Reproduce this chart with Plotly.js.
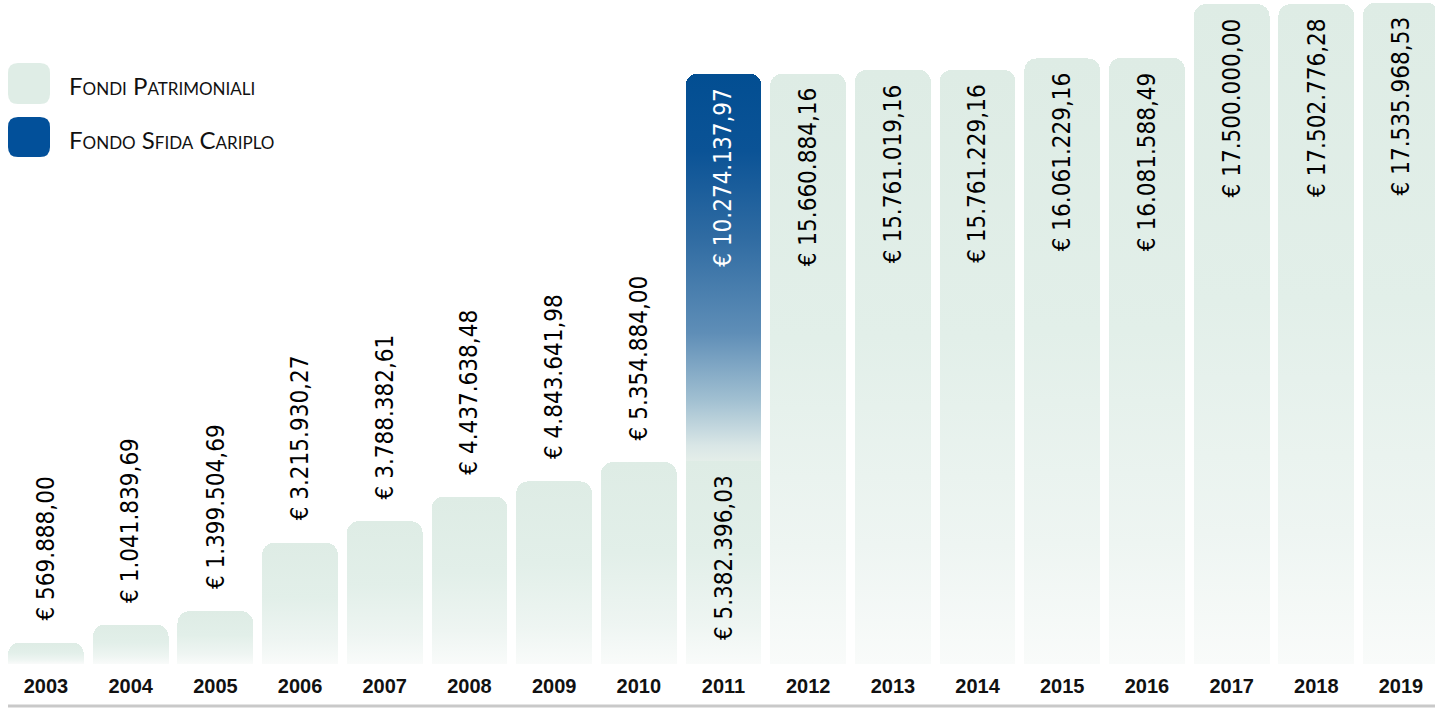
<!DOCTYPE html>
<html>
<head>
<meta charset="utf-8">
<script src="https://cdn.plot.ly/plotly-3.0.1.min.js"></script>
<style>
  html, body { margin: 0; padding: 0; background: #ffffff; }
  #chart { width: 1435px; height: 708px; }
</style>
</head>
<body>
<div id="chart"></div>
<script>
// ---- data ----
const years = ['2003','2004','2005','2006','2007','2008','2009','2010','2011',
               '2012','2013','2014','2015','2016','2017','2018','2019'];
const fondiPatrimoniali = [569888.00, 1041839.69, 1399504.69, 3215930.27, 3788382.61,
  4437638.48, 4843641.98, 5354884.00, 5382396.03, 15660884.16, 15761019.16,
  15761229.16, 16061229.16, 16081588.49, 17500000.00, 17502776.28, 17535968.53];
const fondoSfidaCariplo = [null, null, null, null, null, null, null, null, 10274137.97,
  null, null, null, null, null, null, null, null];
const seriesNames = ['Fondi Patrimoniali', 'Fondo Sfida Cariplo'];
// labels drawn above the bar for these years (others inside)
const outsideYears = ['2003','2004','2005','2006','2007','2008','2009','2010'];

// ---- helpers ----
function fmtEuro(v) {
  const parts = v.toFixed(2).split('.');
  const intp = parts[0].replace(/\B(?=(\d{3})+(?!\d))/g, '.');
  return '€ ' + intp + ',' + parts[1];
}

const W = 1435, H = 708, MB = 44;
const plotH = H - MB;
const pxPerMillion = 37.7;
const yMax = plotH / pxPerMillion * 1e6;

const GREEN = '#dfede6';
const BLUE = '#02509a';
const LABEL_FONT = '"DejaVu Sans Condensed", "Roboto Condensed", "Liberation Sans Narrow", "DejaVu Sans", sans-serif';

const traces = [
  {
    type: 'bar', name: seriesNames[0], x: years, y: fondiPatrimoniali,
    marker: { color: GREEN, cornerradius: 12, line: { width: 0 } },
    hoverinfo: 'x+y'
  },
  {
    type: 'bar', name: seriesNames[1], x: years, y: fondoSfidaCariplo,
    marker: { color: BLUE, cornerradius: 12, line: { width: 0 } },
    hoverinfo: 'x+y'
  }
];

// value labels (annotations in data coordinates; category axis -> index positions)
const annotations = [];
years.forEach((yr, i) => {
  const base = fondiPatrimoniali[i];
  const extra = fondoSfidaCariplo[i];
  const outside = outsideYears.includes(yr);
  annotations.push({
    x: i, y: base, xref: 'x', yref: 'y', text: fmtEuro(base), textangle: -90,
    showarrow: false, xanchor: 'center',
    yanchor: outside ? 'bottom' : 'top', yshift: outside ? 20 : -12,
    font: { family: LABEL_FONT, size: 24, color: '#000000' }
  });
  if (extra != null) {
    annotations.push({
      x: i, y: base + extra, xref: 'x', yref: 'y', text: fmtEuro(extra), textangle: -90,
      showarrow: false, xanchor: 'center', yanchor: 'top', yshift: -12,
      font: { family: LABEL_FONT, size: 24, color: '#ffffff' }
    });
  }
});

// legend (drawn as layout shapes + text)
function pxX(px) { return px / W; }
function pxY(py) { return (plotH - py) / plotH; }
function roundRectPath(x0, y0, x1, y1, r) {
  const X = pxX, Y = pxY;
  return 'M' + X(x0 + r) + ',' + Y(y0) +
    ' L' + X(x1 - r) + ',' + Y(y0) +
    ' Q' + X(x1) + ',' + Y(y0) + ' ' + X(x1) + ',' + Y(y0 + r) +
    ' L' + X(x1) + ',' + Y(y1 - r) +
    ' Q' + X(x1) + ',' + Y(y1) + ' ' + X(x1 - r) + ',' + Y(y1) +
    ' L' + X(x0 + r) + ',' + Y(y1) +
    ' Q' + X(x0) + ',' + Y(y1) + ' ' + X(x0) + ',' + Y(y1 - r) +
    ' L' + X(x0) + ',' + Y(y0 + r) +
    ' Q' + X(x0) + ',' + Y(y0) + ' ' + X(x0 + r) + ',' + Y(y0) + ' Z';
}
const shapes = [
  { type: 'path', xref: 'paper', yref: 'paper', path: roundRectPath(8, 63, 50, 104, 10),
    fillcolor: GREEN, line: { width: 0 } },
  { type: 'path', xref: 'paper', yref: 'paper', path: roundRectPath(8, 117, 50, 157, 10),
    fillcolor: BLUE, line: { width: 0 } },
  { type: 'line', xref: 'paper', yref: 'paper', x0: pxX(8), x1: 1, y0: pxY(706), y1: pxY(706),
    line: { color: '#c9c9c9', width: 3 } }
];
const legendY = [86, 140];
seriesNames.forEach((nm, i) => {
  annotations.push({
    xref: 'paper', yref: 'paper', x: pxX(67), y: pxY(legendY[i]), text: nm,
    showarrow: false, xanchor: 'left', yanchor: 'middle',
    font: { family: 'Lato, "Open Sans", sans-serif', size: 24, color: '#111111', variant: 'small-caps' }
  });
});

// x range so category centres land where the reference has them
const pitch = 84.6875;
const xa = -46 / pitch;
const xb = xa + W / pitch;

const layout = {
  width: W, height: H,
  margin: { l: 0, r: 0, t: 0, b: MB, pad: 0 },
  paper_bgcolor: '#ffffff', plot_bgcolor: '#ffffff',
  barmode: 'stack', bargap: 0.105,
  showlegend: false,
  xaxis: {
    type: 'category', range: [xa, xb], fixedrange: true,
    showgrid: false, zeroline: false, showline: false, ticks: '',
    tickfont: { family: '"Liberation Sans", Arial, sans-serif', size: 20, color: '#111111', weight: 'bold' },
    ticklabelstandoff: 8
  },
  yaxis: {
    range: [0, yMax], showgrid: false, zeroline: false, showline: false,
    showticklabels: false, ticks: '', fixedrange: true
  },
  shapes: shapes,
  annotations: annotations
};

const gd = document.getElementById('chart');
Plotly.newPlot(gd, traces, layout, { displayModeBar: false, staticPlot: true }).then(() => {
  const NS = 'http://www.w3.org/2000/svg';
  const svg = gd.querySelector('.main-svg');
  let defs = svg.querySelector('defs');
  if (!defs) { defs = document.createElementNS(NS, 'defs'); svg.insertBefore(defs, svg.firstChild); }
  function addGrad(id, stops) {
    const g = document.createElementNS(NS, 'linearGradient');
    g.setAttribute('id', id);
    g.setAttribute('x1', '0'); g.setAttribute('y1', '0');
    g.setAttribute('x2', '0'); g.setAttribute('y2', '1');
    stops.forEach(s => {
      const st = document.createElementNS(NS, 'stop');
      st.setAttribute('offset', s[0]);
      st.setAttribute('stop-color', s[1]);
      g.appendChild(st);
    });
    defs.appendChild(g);
  }
  addGrad('gradGreen', [[0, '#deece5'], [0.45, '#e2efe9'], [0.8, '#eef5f2'], [1, '#f9fbfa']]);
  addGrad('gradBlue', [[0, '#024e92'], [0.2, '#0b5396'], [0.42, '#2f6ba2'], [0.67, '#5f8eb7'],
                       [0.84, '#a0bfd1'], [0.96, '#d9e6e6'], [1, '#e4eee9']]);
  const tr = gd.querySelectorAll('.barlayer .trace');
  if (tr[0]) tr[0].querySelectorAll('path').forEach(p => { p.style.fill = 'url(#gradGreen)'; });
  if (tr[1]) tr[1].querySelectorAll('path').forEach(p => { p.style.fill = 'url(#gradBlue)'; });
});
</script>
</body>
</html>
